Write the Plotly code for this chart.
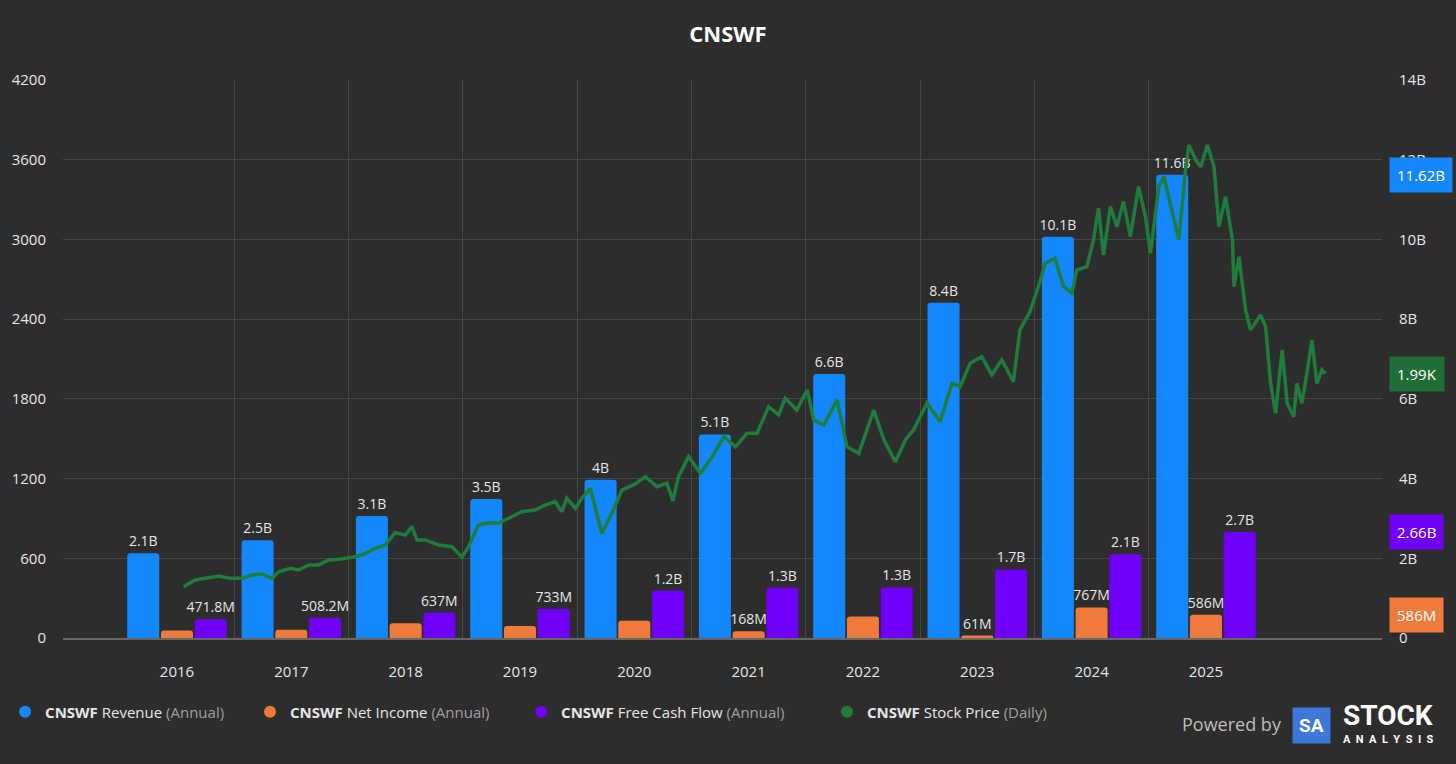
import plotly.graph_objects as go

TICKER = 'CNSWF'
BG = '#2d2d2d'
GRID = '#464646'
TEXT = '#e6e6e6'
BLUE = '#1487fd'
ORANGE = '#ee7b3c'
PURPLE = '#7100fa'
GREEN = '#1e7d3a'
FONT = 'Open Sans'

# annual figures (USD)
YEARS = [2016, 2017, 2018, 2019, 2020, 2021, 2022, 2023, 2024, 2025]
REVENUE = [2.128e9, 2.452e9, 3.061e9, 3.490e9, 3.969e9, 5.106e9, 6.622e9, 8.409e9, 10.07e9, 11.62e9]
NET_INCOME = [0.19e9, 0.21e9, 0.37e9, 0.30e9, 0.43e9, 0.168e9, 0.54e9, 0.061e9, 0.767e9, 0.586e9]
FCF = [0.4718e9, 0.5082e9, 0.637e9, 0.733e9, 1.19e9, 1.26e9, 1.27e9, 1.72e9, 2.10e9, 2.66e9]

REV_LABELS = ['2.1B', '2.5B', '3.1B', '3.5B', '4B', '5.1B', '6.6B', '8.4B', '10.1B', '11.6B']
NI_LABELS = ['', '', '', '', '', '168M', '', '61M', '767M', '586M']
FCF_LABELS = ['471.8M', '508.2M', '637M', '733M', '1.2B', '1.3B', '1.3B', '1.7B', '2.1B', '2.7B']

RIGHT_TICKS = [0, 2e9, 4e9, 6e9, 8e9, 10e9, 12e9, 14e9]
RIGHT_TICKTEXT = ['0', '2B', '4B', '6B', '8B', '10B', '12B', '14B']

# daily stock price, sampled off the chart
PRICE_DATES = [
    '2016-07-21', '2016-08-28', '2016-09-28', '2016-11-10', '2016-12-18', '2017-01-25',
    '2017-02-26', '2017-03-29', '2017-04-30', '2017-05-21', '2017-06-28', '2017-07-24',
    '2017-08-25', '2017-09-26', '2017-10-28', '2017-11-29', '2018-01-11', '2018-02-12',
    '2018-03-26', '2018-04-27', '2018-05-28', '2018-06-30', '2018-07-21', '2018-08-06',
    '2018-09-02', '2018-10-14', '2018-11-26', '2018-12-28', '2019-01-18', '2019-02-19',
    '2019-03-23', '2019-04-23', '2019-05-26', '2019-07-07', '2019-08-19', '2019-09-20',
    '2019-10-22', '2019-11-12', '2019-11-28', '2019-12-25', '2020-01-15', '2020-02-11',
    '2020-03-19', '2020-04-20', '2020-05-22', '2020-06-28', '2020-08-05', '2020-09-11',
    '2020-10-13', '2020-11-01', '2020-11-19', '2020-12-21', '2021-01-28', '2021-03-07',
    '2021-04-13', '2021-05-20', '2021-06-26', '2021-07-28', '2021-09-03', '2021-10-05',
    '2021-10-26', '2021-12-02', '2022-01-04', '2022-01-25', '2022-02-26', '2022-04-10',
    '2022-05-11', '2022-06-18', '2022-08-05', '2022-09-06', '2022-10-13', '2022-11-14',
    '2022-12-10', '2023-01-22', '2023-03-05', '2023-04-12', '2023-05-08', '2023-06-09',
    '2023-07-16', '2023-08-17', '2023-09-18', '2023-10-25', '2023-11-15', '2023-12-17',
    '2024-01-13', '2024-02-04', '2024-03-06', '2024-04-02', '2024-04-29', '2024-05-15',
    '2024-06-16', '2024-07-07', '2024-07-23', '2024-08-08', '2024-08-30', '2024-09-20',
    '2024-10-11', '2024-11-02', '2024-11-28', '2024-12-20', '2025-01-05', '2025-02-01',
    '2025-02-17', '2025-03-16', '2025-04-06', '2025-04-28', '2025-05-08', '2025-05-30',
    '2025-06-15', '2025-07-06', '2025-07-27', '2025-08-12', '2025-09-02', '2025-09-24',
    '2025-09-29', '2025-10-15', '2025-11-05', '2025-11-21', '2025-12-23', '2026-01-08',
    '2026-01-24', '2026-02-09', '2026-03-02', '2026-03-18', '2026-04-08', '2026-04-18',
    '2026-05-04', '2026-05-20', '2026-06-05', '2026-06-21', '2026-07-07', '2026-07-18',
]
PRICE = [
    386, 437, 449, 467, 449, 449,
    474, 482, 449, 499, 525, 512,
    550, 550, 587, 592, 608, 625,
    675, 700, 793, 775, 838, 738,
    738, 700, 687, 608, 687, 851,
    868, 863, 901, 951, 964, 1001,
    1026, 951, 1052, 976, 1052, 1127,
    788, 939, 1114, 1152, 1214, 1139,
    1165, 1034, 1214, 1365, 1240, 1365,
    1515, 1440, 1541, 1541, 1741, 1679,
    1804, 1716, 1867, 1641, 1603, 1792,
    1440, 1390, 1716, 1491, 1327, 1491,
    1566, 1767, 1628, 1917, 1892, 2068,
    2118, 1980, 2093, 1929, 2319, 2456,
    2645, 2821, 2858, 2645, 2595, 2770,
    2795, 2996, 3235, 2883, 3247, 3096,
    3285, 3021, 3398, 3172, 2896, 3398,
    3473, 3197, 2996, 3548, 3711, 3598,
    3548, 3711, 3548, 3096, 3322, 2996,
    2645, 2870, 2469, 2319, 2432, 2344,
    1917, 1692, 2168, 1767, 1666, 1917,
    1767, 1993, 2243, 1917, 2018, 1990,
]


def fmt_short(v):
    if v >= 1e9:
        return f'{v / 1e9:.2f}B'
    if v >= 1e6:
        return f'{v / 1e6:.0f}M'
    return f'{v / 1e3:.2f}K'


fig = go.Figure()

bar_series = [
    ('Revenue', REVENUE, REV_LABELS, BLUE),
    ('Net Income', NET_INCOME, NI_LABELS, ORANGE),
    ('Free Cash Flow', FCF, FCF_LABELS, PURPLE),
]
for name, vals, labels, color in bar_series:
    fig.add_trace(go.Bar(
        x=YEARS, y=vals, name=name, text=labels,
        textposition='outside', cliponaxis=False, constraintext='none',
        textfont=dict(color=TEXT, size=14, family=FONT),
        marker=dict(color=color, cornerradius=3, line=dict(width=0)),
        showlegend=False, hoverinfo='skip',
    ))

fig.add_trace(go.Scatter(
    x=PRICE_DATES, y=PRICE, xaxis='x2', yaxis='y2', mode='lines',
    line=dict(color=GREEN, width=3.5), showlegend=False, hoverinfo='skip',
))

# legend entries (round dots), one legend each so they can be spaced like the original
legend_items = [
    ('Revenue', 'Annual', BLUE, 'legend', 0.0035),
    ('Net Income', 'Annual', ORANGE, 'legend2', 0.1717),
    ('Free Cash Flow', 'Annual', PURPLE, 'legend3', 0.3579),
    ('Stock Price', 'Daily', GREEN, 'legend4', 0.5680),
]
legend_layout = {}
for name, freq, color, lg, lx in legend_items:
    fig.add_trace(go.Scatter(
        x=[None], y=[None], mode='markers', legend=lg,
        marker=dict(color=color, size=12, symbol='circle'),
        name=f'<b>{TICKER}</b> {name} <span style="color:#a0a0a0">({freq})</span>',
    ))
    legend_layout[lg] = dict(
        orientation='h', xref='container', yref='container',
        x=lx, xanchor='left', y=0.068, yanchor='middle',
        bgcolor='rgba(0,0,0,0)', itemwidth=30,
        font=dict(color=TEXT, size=15, family=FONT),
    )

badges = [
    (fmt_short(REVENUE[-1]), REVENUE[-1], 'y', BLUE),
    (fmt_short(FCF[-1]), FCF[-1], 'y', PURPLE),
    (fmt_short(NET_INCOME[-1]), NET_INCOME[-1], 'y', ORANGE),
    (fmt_short(PRICE[-1]), PRICE[-1], 'y2', '#1f6e35'),
]
annotations = []
for text, val, yref, color in badges:
    annotations.append(dict(
        xref='paper', x=1.0053, xanchor='left', yref=yref, y=val, yanchor='middle',
        text=text, showarrow=False, bgcolor=color, borderpad=7,
        font=dict(color='white', size=15, family=FONT),
    ))

# "Powered by Stock Analysis" mark
annotations += [
    dict(xref='paper', yref='paper', x=0.8863, y=-0.154, xanchor='center', yanchor='middle',
         text='Powered by', showarrow=False,
         font=dict(color='#bdbdbd', size=18, family=FONT)),
    dict(xref='paper', yref='paper', x=0.9462, y=-0.156, xanchor='center', yanchor='middle',
         text='<b>SA</b>', showarrow=False, bgcolor='#3b78d8', borderpad=6,
         font=dict(color='white', size=19, family='Roboto')),
    dict(xref='paper', yref='paper', x=1.0042, y=-0.139, xanchor='center', yanchor='middle',
         text='<b>STOCK</b>', showarrow=False,
         font=dict(color='white', size=28, family='Roboto')),
    dict(xref='paper', yref='paper', x=1.005, y=-0.182, xanchor='center', yanchor='middle',
         text='<b>A&nbsp;&nbsp;N&nbsp;&nbsp;A&nbsp;&nbsp;L&nbsp;&nbsp;Y&nbsp;&nbsp;S&nbsp;&nbsp;I&nbsp;&nbsp;S</b>',
         showarrow=False, font=dict(color='white', size=11, family='Roboto')),
]

fig.update_layout(
    width=1456, height=764,
    paper_bgcolor=BG, plot_bgcolor=BG,
    margin=dict(l=63, r=74, t=80, b=126),
    barmode='group', bargap=0.115, bargroupgap=0.05,
    font=dict(family=FONT, color=TEXT, size=14),
    title=dict(text=f'<b>{TICKER}</b>', x=0.5, xref='container', xanchor='center',
               y=0.955, yref='container', yanchor='middle',
               font=dict(size=22, color='white', family=FONT)),
    xaxis=dict(
        range=[2015.003, 2026.54], tickmode='array', tickvals=YEARS,
        showgrid=False, zeroline=False, ticks='', ticklabelstandoff=19,
        showline=True, linecolor='#666666', linewidth=2,
        minor=dict(tickmode='array', tickvals=[y + 0.5 for y in YEARS[:-1]],
                   showgrid=True, gridcolor=GRID, gridwidth=1, ticks=''),
        tickfont=dict(size=15, color=TEXT),
    ),
    xaxis2=dict(type='date', overlaying='x', range=['2015-07-02', '2027-01-15'], visible=False),
    yaxis=dict(
        side='right', range=[0, 14e9], tickmode='array', tickvals=RIGHT_TICKS,
        ticktext=RIGHT_TICKTEXT, showgrid=True, gridcolor=GRID, gridwidth=1,
        zeroline=False, ticks='', ticklabelstandoff=16, tickfont=dict(size=15, color=TEXT),
    ),
    yaxis2=dict(
        side='left', overlaying='y', range=[0, 4200], dtick=600, showgrid=False,
        zeroline=False, ticks='', ticklabelstandoff=16, tickfont=dict(size=15, color=TEXT),
    ),
    annotations=annotations,
    **legend_layout,
)

fig.write_html(
    'out.html',
    config={'displayModeBar': False},
    post_script="document.body.style.margin='0';document.body.style.overflow='hidden';",
)
